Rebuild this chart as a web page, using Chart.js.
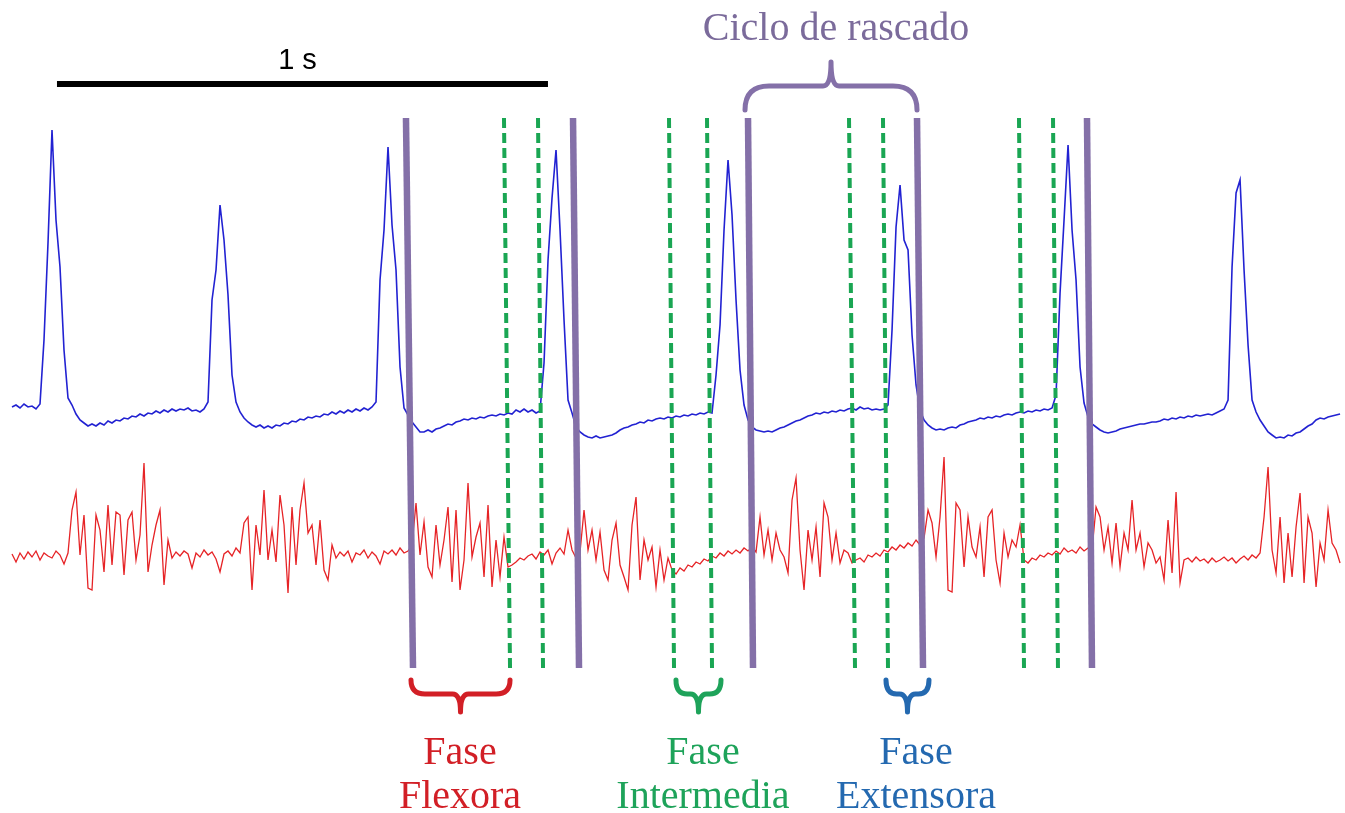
<!DOCTYPE html>
<html>
<head>
<meta charset="utf-8">
<script src="https://cdn.jsdelivr.net/npm/chart.js@4.4.1/dist/chart.umd.min.js"></script>
<style>
  html, body { margin: 0; padding: 0; background: #fff; }
  #wrap { width: 1345px; height: 813px; }
</style>
</head>
<body>
<div id="wrap"><canvas id="scratch" width="1345" height="813"></canvas></div>
<script>
// sampling interval of both recordings (s)
const SAMPLE_DT = 0.008147;

// ENG (blue) amplitude, a.u.
const engValues = [
  23, 25, 22, 26, 23, 24, 21, 26, 90, 187,
  300, 210, 163, 80, 32, 25, 16, 10, 7, 4,
  6, 4, 7, 5, 9, 7, 10, 9, 12, 11,
  14, 13, 16, 14, 17, 16, 19, 17, 20, 18,
  21, 19, 21, 20, 22, 19, 20, 18, 21, 28,
  130, 160, 225, 190, 135, 55, 28, 18, 12, 8,
  5, 3, 5, 2, 4, 2, 5, 4, 7, 6,
  9, 8, 11, 10, 13, 12, 14, 13, 16, 15,
  18, 16, 19, 17, 20, 18, 21, 19, 22, 20,
  23, 28, 150, 200, 283, 205, 160, 63, 22, 15,
  8, 3, -2, -2, 0, -2, 1, 2, 4, 6,
  5, 8, 9, 11, 10, 12, 11, 13, 12, 14,
  15, 14, 16, 15, 17, 16, 20, 18, 21, 18,
  20, 17, 19, 67, 170, 232, 280, 200, 110, 30,
  17, 3, -2, -5, -7, -8, -6, -8, -7, -6,
  -5, -3, 0, 2, 3, 5, 6, 8, 7, 10,
  9, 11, 12, 11, 13, 12, 14, 13, 15, 14,
  16, 15, 17, 16, 18, 17, 55, 105, 200, 270,
  215, 130, 60, 25, 10, 3, 0, -1, -2, -1,
  -2, 0, 2, 3, 5, 7, 9, 10, 12, 14,
  15, 17, 16, 18, 17, 19, 18, 20, 19, 21,
  22, 20, 23, 21, 22, 20, 21, 20, 21, 25,
  100, 203, 245, 190, 180, 95, 45, 20, 10, 5,
  2, 0, 1, 0, 2, 3, 2, 5, 6, 8,
  9, 10, 12, 11, 13, 12, 14, 13, 15, 16,
  15, 17, 18, 17, 19, 18, 20, 19, 21, 20,
  22, 35, 137, 210, 285, 200, 150, 63, 27, 13,
  6, 3, 0, -2, -3, -2, -1, 1, 2, 3,
  4, 5, 6, 6, 7, 8, 8, 9, 11, 10,
  12, 11, 13, 12, 14, 13, 15, 14, 15, 16,
  15, 17, 19, 21, 30, 163, 237, 250, 160, 85,
  30, 18, 10, 4, -2, -5, -8, -7, -8, -5,
  -6, -3, -2, 1, 4, 6, 10, 12, 11, 13,
  14, 15, 16
];

// EMG (red) amplitude, a.u.
const emgValues = [
  -4, -12, -3, -9, -2, -7, -1, -10, -3, -6,
  -8, -1, -5, -14, -3, 40, 58, -5, 35, -38,
  -40, 35, 20, -22, 45, -15, 38, 35, -25, 30,
  38, -10, 15, 87, -22, 5, 25, 40, -35, 10,
  -8, -2, -6, -1, -4, -18, -3, -7, 0, -5,
  -2, -9, -22, -4, -1, -6, 2, -3, 27, 33,
  -40, 25, -5, 60, -10, 20, -12, 55, 25, -43,
  43, -15, 40, 67, 17, 25, -15, 30, -20, -30,
  5, -8, -2, -6, -1, -12, -3, -5, 0, -8,
  -2, -6, -14, -1, -4, 0, -5, 2, -3, -1,
  5, 47, -5, 28, -17, -27, 25, -15, 10, 43,
  -32, 40, -40, -10, 67, -7, 13, 27, -27, 45,
  -37, 10, -27, 13, -17, -15, -12, -8, -10, -6,
  -4, -9, -2, -5, 0, -14, -3, 2, -4, 20,
  0, -8, -2, 40, 0, 20, -10, 18, -20, -30,
  10, 27, -15, -27, -40, 25, 53, -30, 10, -10,
  3, -37, 0, -30, -8, -20, -24, -18, -21, -15,
  -17, -12, -14, -9, -11, -6, -8, -3, -6, -1,
  -4, 0, -3, 2, -1, 3, -2, 33, -5, 20,
  -10, 17, 0, -7, -23, 50, 72, 0, -40, 20,
  -10, 23, -27, 47, 33, -10, 17, -13, 0, -3,
  -13, -10, -8, -12, -5, -7, -3, -6, 0, -2,
  3, 0, 5, 2, 7, 4, 10, 5, 12, 40,
  27, -7, 33, 93, -40, -42, 47, 40, -17, 33,
  3, -7, 23, -27, 33, 40, -10, -33, 17, -7,
  10, 3, 25, -10, -13, -8, -10, -5, -7, -3,
  -5, -1, -4, 2, -2, 0, -3, 3, -1, 2,
  0, 43, 33, 0, 23, -13, 27, -17, 17, 0,
  50, 0, 17, -17, 7, 0, -13, -7, -30, 30,
  -23, 58, -33, -10, -8, -12, -7, -11, -9, -13,
  -8, -12, -10, -7, -11, -8, -13, -9, -6, -10,
  -5, -8, -3, 33, 83, 0, -23, 33, -33, 17,
  -27, 23, 57, -33, 33, 17, -37, 7, -10, 40,
  7, 0, -13
];

// cycle boundaries (s), top and bottom end of each marker
const cycleTop = [0.8024, 1.1426, 1.4990, 1.8432, 2.1894];
const cycleBottom = [0.8167, 1.1548, 1.5092, 1.8554, 2.1996];
// phase boundaries (s), dashed
const phaseTop = [1.0020, 1.0713, 1.3381, 1.4155, 1.7047, 1.7739, 2.0509, 2.1202];
const phaseBottom = [1.0143, 1.0815, 1.3483, 1.4257, 1.7169, 1.7841, 2.0611, 2.1303];
// marker extent, in ENG units
const MARK_TOP = 312;
const MARK_BOTTOM = -238;

const phaseNames = [['Fase', 'Flexora'], ['Fase', 'Intermedia'], ['Fase', 'Extensora']];
const phaseStart = [0.8126, 1.3523, 1.7800];
const phaseEnd = [1.0143, 1.4440, 1.8676];
const phaseLabelAt = [0.9124, 1.4073, 1.8411];
const cycleSpan = [1.4929, 1.8432];
const scaleBarSpan = [0.0916, 1.0916];

const PURPLE = '#8470a8';
const GREEN = '#1aa653';
const phaseColors = ['#d21f26', '#1ea35a', '#2469b0'];

const datasets = [];
cycleTop.forEach((t, i) => {
  datasets.push({
    data: [{ x: t, y: MARK_TOP }, { x: cycleBottom[i], y: MARK_BOTTOM }],
    yAxisID: 'yEng', borderColor: PURPLE, borderWidth: 6.5, order: 0
  });
});
phaseTop.forEach((t, i) => {
  datasets.push({
    data: [{ x: t, y: MARK_TOP }, { x: phaseBottom[i], y: MARK_BOTTOM }],
    yAxisID: 'yEng', borderColor: GREEN, borderWidth: 4, borderDash: [10, 5], order: 0
  });
});
datasets.push({
  label: 'ENG',
  data: engValues.map((v, i) => ({ x: i * SAMPLE_DT, y: v })),
  yAxisID: 'yEng', borderColor: '#2222d2', borderWidth: 1.6, order: 1
});
datasets.push({
  label: 'EMG',
  data: emgValues.map((v, i) => ({ x: i * SAMPLE_DT, y: v })),
  yAxisID: 'yEmg', borderColor: '#e62326', borderWidth: 1.3, order: 1
});

function brace(ctx, xa, xb, yLeg, yBar, yTip) {
  const xm = (xa + xb) / 2;
  const r = Math.min(Math.abs(yBar - yLeg), (xb - xa) / 4);
  const r2 = Math.min(8, (xb - xa) / 4);
  ctx.beginPath();
  ctx.moveTo(xa, yLeg);
  ctx.quadraticCurveTo(xa, yBar, xa + r, yBar);
  ctx.lineTo(xm - r2, yBar);
  ctx.quadraticCurveTo(xm, yBar, xm, yTip);
  ctx.quadraticCurveTo(xm, yBar, xm + r2, yBar);
  ctx.lineTo(xb - r, yBar);
  ctx.quadraticCurveTo(xb, yBar, xb, yLeg);
  ctx.stroke();
}

const annotate = {
  id: 'annotate',
  afterDatasetsDraw(chart) {
    const ctx = chart.ctx;
    const xs = chart.scales.x;
    ctx.save();
    ctx.lineJoin = 'round';

    // 1 s scale bar
    ctx.strokeStyle = '#000';
    ctx.lineWidth = 6;
    ctx.lineCap = 'butt';
    ctx.beginPath();
    ctx.moveTo(xs.getPixelForValue(scaleBarSpan[0]), 84);
    ctx.lineTo(xs.getPixelForValue(scaleBarSpan[1]), 84);
    ctx.stroke();
    ctx.fillStyle = '#000';
    ctx.font = '29px "Liberation Sans"';
    ctx.textAlign = 'center';
    ctx.textBaseline = 'alphabetic';
    ctx.fillText('1 s', xs.getPixelForValue((scaleBarSpan[0] + scaleBarSpan[1]) / 2) - 5, 69);

    // cycle brace and title
    ctx.lineCap = 'round';
    ctx.strokeStyle = PURPLE;
    ctx.lineWidth = 5;
    brace(ctx, xs.getPixelForValue(cycleSpan[0]), xs.getPixelForValue(cycleSpan[1]), 110, 86, 62);
    ctx.fillStyle = '#7b6b9b';
    ctx.font = '40px "Liberation Serif"';
    ctx.fillText('Ciclo de rascado',
      xs.getPixelForValue((cycleSpan[0] + cycleSpan[1]) / 2) + 5, 40);

    // phase braces and labels
    phaseNames.forEach((lines, i) => {
      ctx.strokeStyle = phaseColors[i];
      ctx.lineWidth = 5;
      brace(ctx, xs.getPixelForValue(phaseStart[i]), xs.getPixelForValue(phaseEnd[i]), 680, 694, 712);
      ctx.fillStyle = phaseColors[i];
      ctx.font = '40px "Liberation Serif"';
      const cx = xs.getPixelForValue(phaseLabelAt[i]);
      ctx.fillText(lines[0], cx, 764);
      ctx.fillText(lines[1], cx, 808);
    });
    ctx.restore();
  }
};

new Chart(document.getElementById('scratch'), {
  type: 'line',
  data: { datasets },
  options: {
    responsive: false,
    animation: false,
    parsing: false,
    normalized: true,
    layout: { padding: 0 },
    elements: { point: { radius: 0 }, line: { tension: 0 } },
    plugins: { legend: { display: false }, tooltip: { enabled: false } },
    scales: {
      x: { type: 'linear', min: -0.02444, max: 2.71487, display: false },
      yEng: { type: 'linear', min: -383, max: 430, display: false },
      yEmg: { type: 'linear', min: -263, max: 550, display: false }
    }
  },
  plugins: [annotate]
});
</script>
</body>
</html>
